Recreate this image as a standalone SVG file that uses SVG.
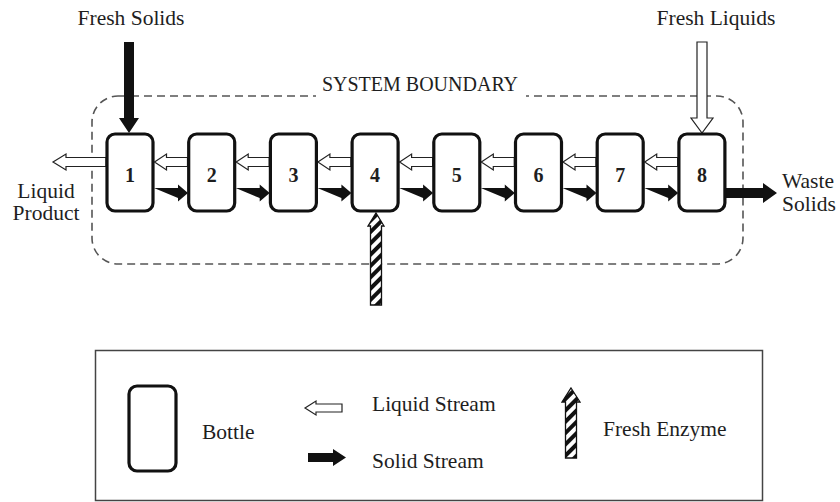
<svg xmlns="http://www.w3.org/2000/svg" width="840" height="502" viewBox="0 0 840 502">
<style>
text{font-family:"Liberation Serif","Times New Roman",serif;fill:#1e1e1e}
.lbl{font-size:21.5px}
.num{font-size:20px;font-weight:bold;text-anchor:middle}
.bottle{fill:#fff;stroke:#111;stroke-width:3.2}
.liq{fill:#fff;stroke:#222;stroke-width:1.2;stroke-linejoin:miter}
.sol{fill:#111;stroke:none}
.bound{fill:none;stroke:#555;stroke-width:1.6;stroke-dasharray:8 5}
</style>
<defs>
<pattern id="hatch" patternUnits="userSpaceOnUse" width="8" height="8" patternTransform="rotate(45)">
<rect width="8" height="8" fill="#fff"/>
<rect width="4" height="8" fill="#111"/>
</pattern>
<g id="lq"><polygon class="liq" points="0,0 12,-8 12,-4.5 33,-4.5 33,4.5 12,4.5 12,8"/></g>
<g id="sd"><polygon class="sol" points="0,-5 24,-5 24,-8.5 34,0 24,8.5 24,5"/></g>
</defs>
<rect class="bound" x="92" y="96" width="651" height="168" rx="26"/>
<rect x="316" y="78" width="210" height="22" fill="#fff"/>
<text x="420" y="91" text-anchor="middle" font-size="20">SYSTEM BOUNDARY</text>
<g id="labels">
<text class="lbl" x="131" y="25" text-anchor="middle">Fresh Solids</text>
<text class="lbl" x="716" y="25" text-anchor="middle">Fresh Liquids</text>
<text class="lbl" x="46" y="198" text-anchor="middle">Liquid</text>
<text class="lbl" x="46" y="220" text-anchor="middle">Product</text>
<text class="lbl" x="782" y="188">Waste</text>
<text class="lbl" x="782" y="211">Solids</text>
</g>
<g id="connectors">
<polygon class="sol" points="124,42 134,42 134,118 139,118 129,133 119,118 124,118"/>
<polygon class="liq" points="697,42 707,42 707,118 713,118 702,133 691,118 697,118"/>
<polygon class="liq" points="53,162 66,154 66,157.5 106,157.5 106,166.5 66,166.5 66,170"/>
<polygon class="sol" points="726,188 763,188 763,183 777,193 763,203 763,198 726,198"/>
<polygon points="376,213 384,226 381.5,226 381.5,305 370.5,305 370.5,226 368,226" fill="url(#hatch)" stroke="#111" stroke-width="1.3"/>
<use href="#lq" x="154.5" y="162"/>
<use href="#lq" x="236.2" y="162"/>
<use href="#lq" x="317.9" y="162"/>
<use href="#lq" x="399.6" y="162"/>
<use href="#lq" x="481.3" y="162"/>
<use href="#lq" x="563" y="162"/>
<use href="#lq" x="644.7" y="162"/>
<use href="#sd" x="154" y="193"/>
<use href="#sd" x="235.7" y="193"/>
<use href="#sd" x="317.4" y="193"/>
<use href="#sd" x="399.1" y="193"/>
<use href="#sd" x="480.8" y="193"/>
<use href="#sd" x="562.5" y="193"/>
<use href="#sd" x="644.2" y="193"/>
</g>
<g id="b1"><rect class="bottle" x="107" y="134" width="46" height="77" rx="8"/><text class="num" x="130" y="182">1</text></g>
<g id="b2"><rect class="bottle" x="188.7" y="134" width="46" height="77" rx="8"/><text class="num" x="211.7" y="182">2</text></g>
<g id="b3"><rect class="bottle" x="270.4" y="134" width="46" height="77" rx="8"/><text class="num" x="293.4" y="182">3</text></g>
<g id="b4"><rect class="bottle" x="352.1" y="134" width="46" height="77" rx="8"/><text class="num" x="375.1" y="182">4</text></g>
<g id="b5"><rect class="bottle" x="433.8" y="134" width="46" height="77" rx="8"/><text class="num" x="456.8" y="182">5</text></g>
<g id="b6"><rect class="bottle" x="515.5" y="134" width="46" height="77" rx="8"/><text class="num" x="538.5" y="182">6</text></g>
<g id="b7"><rect class="bottle" x="597.2" y="134" width="46" height="77" rx="8"/><text class="num" x="620.2" y="182">7</text></g>
<g id="b8"><rect class="bottle" x="678.9" y="134" width="46" height="77" rx="8"/><text class="num" x="701.9" y="182">8</text></g>
<g id="legend">
<rect x="95.5" y="350.5" width="667" height="150" fill="#fff" stroke="#444" stroke-width="1.5"/>
<rect class="bottle" x="129" y="386" width="47" height="85" rx="8" stroke-width="3"/>
<text class="lbl" x="202" y="439">Bottle</text>
<polygon class="liq" points="305,408 316,401 316,404 342,404 342,412 316,412 316,415"/>
<text class="lbl" x="372" y="411">Liquid Stream</text>
<polygon class="sol" points="308,453 333,453 333,449 346,457.5 333,466 333,462 308,462"/>
<text class="lbl" x="372" y="468">Solid Stream</text>
<polygon points="571,388 580,402 576.5,402 576.5,458 565.5,458 565.5,402 562,402" fill="url(#hatch)" stroke="#111" stroke-width="1.3"/>
<text class="lbl" x="603" y="436">Fresh Enzyme</text>
</g>
</svg>
